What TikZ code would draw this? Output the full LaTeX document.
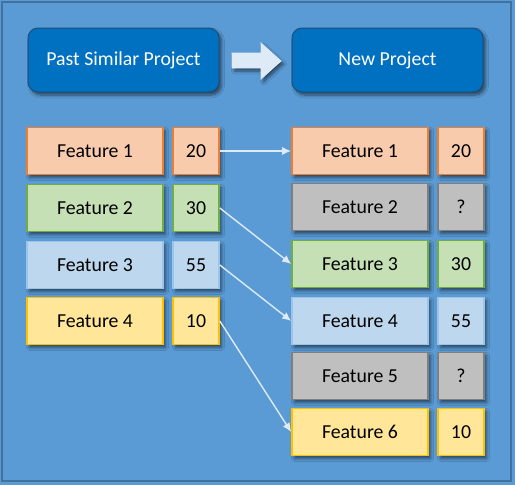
\documentclass[tikz,border=0pt]{standalone}
\usepackage{fontspec}
\setmainfont{Carlito}
\usetikzlibrary{shadows,shadows.blur,arrows.meta}
\definecolor{bgblue}{HTML}{5B9BD5}
\definecolor{bgborder}{HTML}{41719C}
\definecolor{hdfill}{HTML}{0070C0}
\definecolor{hdborder}{HTML}{1F4E79}
\definecolor{ofill}{HTML}{F8CBAD}\definecolor{odraw}{HTML}{ED7D31}
\definecolor{gfill}{HTML}{C5E0B4}\definecolor{gdraw}{HTML}{70AD47}
\definecolor{bfill}{HTML}{BDD7EE}\definecolor{bdraw}{HTML}{9DC3E6}
\definecolor{yfill}{HTML}{FFE699}\definecolor{ydraw}{HTML}{FFC000}
\definecolor{kfill}{HTML}{BFBFBF}\definecolor{kdraw}{HTML}{7F7F7F}
\definecolor{linkc}{HTML}{DEEBF7}
\tikzset{
  shad/.style={blur shadow={shadow xshift=2.5pt,shadow yshift=-3pt,shadow opacity=55,shadow blur radius=3pt,shadow blur steps=6}},
  txt/.style={font=\fontsize{19.8}{22}\selectfont, inner sep=0pt},
  header/.style={txt, shad, rounded corners=10pt, fill=hdfill, draw=hdborder, line width=1pt,
    text=white, minimum width=191pt, minimum height=64pt},
  feat/.style={txt, shad, line width=1.6pt, minimum width=136pt, minimum height=47pt},
  num/.style={txt, shad, line width=1.6pt, minimum width=46pt, minimum height=47pt},
  orange/.style={fill=ofill, draw=odraw},
  green/.style={fill=gfill, draw=gdraw},
  lblue/.style={fill=bfill, draw=bdraw},
  yellow/.style={fill=yfill, draw=ydraw},
  grey/.style={fill=kfill, draw=kdraw},
  link/.style={draw=linkc, line width=1.4pt, -{Latex[length=9pt,width=8pt]}},
}
\begin{document}
\begin{tikzpicture}[x=1pt,y=-1pt]
\useasboundingbox (0,0) rectangle (515,485);
\fill[bgblue] (0,0) rectangle (515,485);
\draw[bgborder, line width=2pt] (2,2) rectangle (511,481);
% headers
\node[header] (past) at (123.5,60) {Past Similar Project};
\node[header] (new) at (387.5,60) {New Project};
% block arrow
\path[shad, fill=linkc, draw=white!80!bgblue, line width=0.8pt]
  (232,53) -- (261,53) -- (261,43) -- (281,61) -- (261,79) -- (261,68) -- (232,68) -- cycle;
% left column
\node[feat,orange] (lf1) at (95,151) {Feature 1};
\node[num,orange]  (ln1) at (196,151) {20};
\node[feat,green]  (lf2) at (95,208) {Feature 2};
\node[num,green]   (ln2) at (196,208) {30};
\node[feat,lblue]  (lf3) at (95,265) {Feature 3};
\node[num,lblue]   (ln3) at (196,265) {55};
\node[feat,yellow] (lf4) at (95,321) {Feature 4};
\node[num,yellow]  (ln4) at (196,321) {10};
% right column
\node[feat,orange] (rf1) at (360,151) {Feature 1};
\node[num,orange]  (rn1) at (461,151) {20};
\node[feat,grey]   (rf2) at (360,207) {Feature 2};
\node[num,grey]    (rn2) at (461,207) {?};
\node[feat,green]  (rf3) at (360,264) {Feature 3};
\node[num,green]   (rn3) at (461,264) {30};
\node[feat,lblue]  (rf4) at (360,321) {Feature 4};
\node[num,lblue]   (rn4) at (461,321) {55};
\node[feat,grey]   (rf5) at (360,376) {Feature 5};
\node[num,grey]    (rn5) at (461,376) {?};
\node[feat,yellow] (rf6) at (360,432) {Feature 6};
\node[num,yellow]  (rn6) at (461,432) {10};
% connectors
\draw[link] (ln1.east) -- (rf1.west);
\draw[link] (ln2.east) -- (rf3.west);
\draw[link] (ln3.east) -- (rf4.west);
\draw[link] (ln4.east) -- (rf6.west);
\end{tikzpicture}
\end{document}
